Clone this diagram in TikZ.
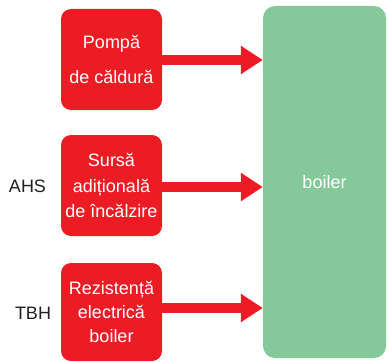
\documentclass[tikz,border=0pt]{standalone}
\usepackage{fontspec}
\setmainfont{Liberation Sans}
\usetikzlibrary{arrows.meta}
\definecolor{boxred}{HTML}{ED1C24}
\definecolor{boilergreen}{HTML}{85C99B}
\definecolor{labelgray}{HTML}{231F20}
\tikzset{
  redbox/.style={fill=boxred, rounded corners=10pt, minimum width=101pt, text=white, align=center, font=\fontsize{18pt}{24pt}\selectfont, inner sep=0pt},
  greenbox/.style={fill=boilergreen, rounded corners=12pt, minimum width=123pt, minimum height=352pt, text=white, font=\fontsize{18pt}{24pt}\selectfont},
  sidelabel/.style={text=labelgray, font=\fontsize{18pt}{24pt}\selectfont},
  bigarrow/.style={draw=boxred, line width=10pt, -{Triangle[length=22pt,width=27pt]}}
}
\begin{document}
\begin{tikzpicture}[x=1pt,y=-1pt]
\useasboundingbox (0,0) rectangle (387,361);
\node[greenbox] (boiler) at (324.5,182) {boiler};
\node[redbox, minimum height=101pt] (p1) at (111.5,59.5) {Pompă\\[11pt]de căldură};
\node[redbox, minimum height=101pt] (p2) at (111.5,185.5) {Sursă\\[1.5pt]adițională\\[1.5pt]de încălzire};
\node[redbox, minimum height=98pt] (p3) at (111.5,312) {Rezistență\\electrică\\boiler};
\node[sidelabel] (ahs) at (27.5,186.5) {AHS};
\node[sidelabel] (tbh) at (33,313) {TBH};
\draw[bigarrow] ([yshift=-0.5pt]p1.east) -- ([yshift=-0.5pt]p1.east -| boiler.west);
\draw[bigarrow] ([yshift=-1.5pt]p2.east) -- ([yshift=-1.5pt]p2.east -| boiler.west);
\draw[bigarrow] ([yshift=4pt]p3.east) -- ([yshift=4pt]p3.east -| boiler.west);
\end{tikzpicture}
\end{document}
